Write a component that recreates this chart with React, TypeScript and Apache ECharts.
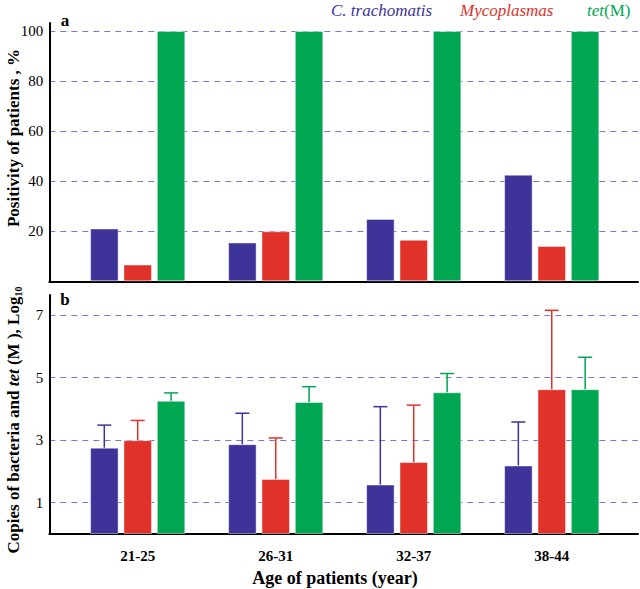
import React, { useEffect, useRef } from "react";
import * as echarts from "echarts";

const categories = ["21-25", "26-31", "32-37", "38-44"];
const seriesNames = ["C. trachomatis", "Mycoplasmas", "tet(M)"];
const seriesColors = ["#3d3399", "#e1322a", "#00a651"];

const positivityCT = [21.1, 15.5, 24.9, 42.6];
const positivityMyco = [6.7, 20, 16.6, 14.1];
const positivityTet = [100, 100, 100, 100];

const copiesCT = [2.76, 2.87, 1.58, 2.19];
const copiesCTErr = [3.48, 3.86, 4.07, 3.58];
const copiesMyco = [3.0, 1.76, 2.3, 4.63];
const copiesMycoErr = [3.63, 3.07, 4.12, 7.15];
const copiesTet = [4.26, 4.22, 4.53, 4.63];
const copiesTetErr = [4.51, 4.71, 5.13, 5.65];

const topTicks = [20, 40, 60, 80, 100];
const bottomTicks = [1, 3, 5, 7];
const categoryPositions = [1, 2, 3, 4];

const SERIF = "Liberation Serif";
const GRID_COLOR = "#7d77cc";
const BAR_W = 28.5;
const BAR_STEP = 33.4;

export default function App() {
  const ref = useRef<HTMLDivElement>(null);

  useEffect(() => {
    if (!ref.current) return;
    const chart = echarts.init(ref.current, undefined, { renderer: "svg" });

    const toPts = (vals: number[]) => vals.map((v, i) => [categoryPositions[i], v]);
    const toErr = (vals: number[], errs: number[]) =>
      vals.map((v, i) => [categoryPositions[i], v, errs[i]]);

    const barStyle = (s: number) => ({
      color: seriesColors[s],
      borderColor: "rgba(255,255,255,0.45)",
      borderWidth: 1,
    });

    const topSeries = [positivityCT, positivityMyco, positivityTet].map((vals, s) => ({
      type: "bar",
      name: seriesNames[s],
      xAxisIndex: 0,
      yAxisIndex: 0,
      data: toPts(vals),
      barWidth: BAR_W,
      barGap: "17%",
      itemStyle: barStyle(s),
    }));

    const bottomVals = [copiesCT, copiesMyco, copiesTet];
    const bottomErrs = [copiesCTErr, copiesMycoErr, copiesTetErr];
    const bottomSeries = bottomVals.map((vals, s) => ({
      type: "bar",
      name: seriesNames[s],
      xAxisIndex: 1,
      yAxisIndex: 1,
      data: toPts(vals),
      barWidth: BAR_W,
      barGap: "17%",
      itemStyle: barStyle(s),
    }));

    const errSeries = bottomVals.map((vals, s) => ({
      type: "custom",
      name: seriesNames[s] + " err",
      xAxisIndex: 1,
      yAxisIndex: 1,
      z: 5,
      data: toErr(vals, bottomErrs[s]),
      encode: { x: 0, y: [1, 2] },
      renderItem: (params: any, api: any) => {
        const x = api.value(0);
        const v = api.value(1);
        const e = api.value(2);
        const p0 = api.coord([x, v]);
        const p1 = api.coord([x, e]);
        const cx = p0[0] + (s - 1) * BAR_STEP;
        const style = { stroke: seriesColors[s], lineWidth: 1.5 };
        return {
          type: "group",
          children: [
            { type: "line", shape: { x1: cx, y1: p0[1], x2: cx, y2: p1[1] }, style },
            { type: "line", shape: { x1: cx - 7, y1: p1[1], x2: cx + 7, y2: p1[1] }, style },
          ],
        };
      },
    }));

    const axisLine = { show: true, onZero: false, lineStyle: { color: "#000", width: 2 } };
    const splitLine = { show: true, lineStyle: { color: GRID_COLOR, width: 1.2, type: [6, 5] } };
    const yLabel = { color: "#000", fontFamily: SERIF, fontSize: 15, margin: 6 };

    const txt = (extra: any) => ({
      fontFamily: SERIF,
      fontSize: 17,
      fill: "#000",
      ...extra,
    });

    const option: any = {
      animation: false,
      backgroundColor: "#fff",
      textStyle: { fontFamily: SERIF },
      grid: [
        { left: 49.3, right: 2, top: 23, height: 258.3 },
        { left: 49.3, right: 2, top: 295, height: 239 },
      ],
      xAxis: [
        {
          type: "value",
          gridIndex: 0,
          min: 0.3594,
          max: 4.625,
          axisLine,
          axisTick: { show: false },
          axisLabel: { show: false },
          splitLine: { show: false },
        },
        {
          type: "value",
          gridIndex: 1,
          min: 0.3594,
          max: 4.625,
          axisLine,
          axisTick: { show: false, customValues: categoryPositions },
          axisLabel: {
            show: true,
            customValues: categoryPositions,
            formatter: (v: number) => categories[Math.round(v) - 1] ?? "",
            color: "#000",
            fontFamily: SERIF,
            fontWeight: "bold",
            fontSize: 15,
            margin: 14,
          },
          splitLine: { show: false },
        },
      ],
      yAxis: [
        {
          type: "value",
          gridIndex: 0,
          min: 0,
          max: 103.2,
          axisLine,
          axisTick: { show: false, customValues: topTicks },
          axisLabel: { ...yLabel, customValues: topTicks },
          splitLine,
        },
        {
          type: "value",
          gridIndex: 1,
          min: 0,
          max: 7.64,
          axisLine,
          axisTick: { show: false, customValues: bottomTicks },
          axisLabel: { ...yLabel, customValues: bottomTicks },
          splitLine,
        },
      ],
      graphic: [
        {
          type: "text",
          left: 331,
          top: 2,
          style: txt({ text: seriesNames[0], fill: seriesColors[0], fontStyle: "italic" }),
        },
        {
          type: "text",
          left: 460,
          top: 2,
          style: txt({ text: seriesNames[1], fill: seriesColors[1], fontStyle: "italic" }),
        },
        {
          type: "text",
          left: 587,
          top: 2,
          style: {
            text: "{i|tet}{n|(M)}",
            fill: seriesColors[2],
            fontFamily: SERIF,
            fontSize: 17,
            rich: {
              i: { fontStyle: "italic", fontSize: 17, fontFamily: SERIF, fill: seriesColors[2] },
              n: { fontSize: 17, fontFamily: SERIF, fill: seriesColors[2] },
            },
          },
        },
        {
          type: "text",
          x: 65,
          y: 20,
          style: txt({ text: "a", fontWeight: "bold", align: "center", verticalAlign: "middle" }),
        },
        {
          type: "text",
          x: 65,
          y: 299,
          style: txt({ text: "b", fontWeight: "bold", align: "center", verticalAlign: "middle" }),
        },
        {
          type: "text",
          x: 13,
          y: 138,
          rotation: Math.PI / 2,
          style: txt({
            text: "Positivity of patients , %",
            fontWeight: "bold",
            align: "center",
            verticalAlign: "middle",
          }),
        },
        {
          type: "text",
          x: 13,
          y: 420,
          rotation: Math.PI / 2,
          style: {
            text: "{b|Copies of bacteria and }{i|tet}{b| (M ), Log}{s|10}",
            fontFamily: SERIF,
            align: "center",
            verticalAlign: "middle",
            rich: {
              b: { fontWeight: "bold", fontSize: 17, fontFamily: SERIF, fill: "#000", lineHeight: 20 },
              i: { fontWeight: "bold", fontStyle: "italic", fontSize: 17, fontFamily: SERIF, fill: "#000", lineHeight: 20 },
              s: { fontWeight: "bold", fontSize: 10, fontFamily: SERIF, fill: "#000", lineHeight: 20, verticalAlign: "bottom", padding: [8, 0, 0, 0] },
            },
          },
        },
        {
          type: "text",
          x: 335,
          y: 578,
          style: txt({
            text: "Age of patients (year)",
            fontWeight: "bold",
            fontSize: 18,
            align: "center",
            verticalAlign: "middle",
          }),
        },
      ],
      series: [...topSeries, ...bottomSeries, ...errSeries],
    };

    chart.setOption(option);
    return () => chart.dispose();
  }, []);

  return (
    <div
      ref={ref}
      style={{ position: "fixed", left: 0, top: 0, width: 640, height: 589, background: "#fff" }}
    />
  );
}
